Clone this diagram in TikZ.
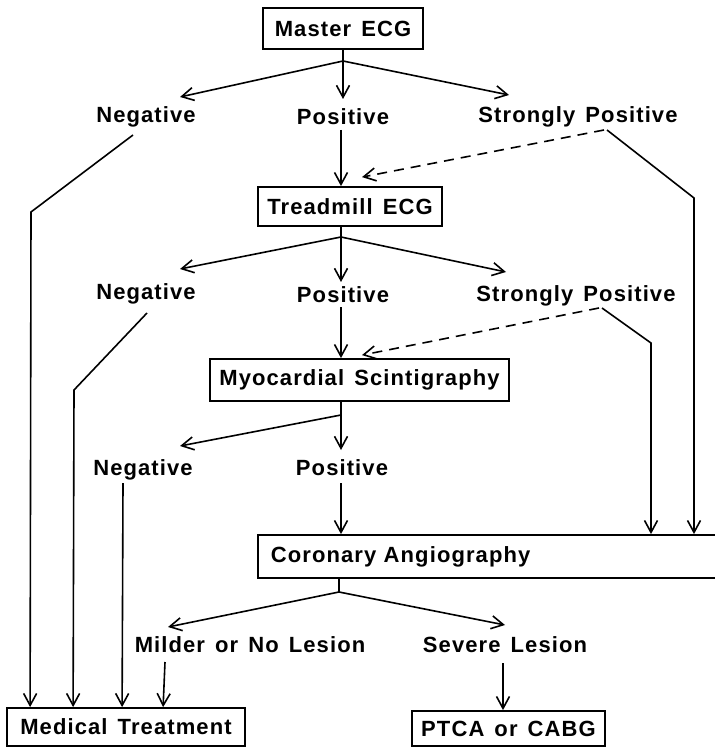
\documentclass[tikz,border=0pt]{standalone}
\usepackage{fontspec}
\setmainfont{Liberation Sans}[LetterSpace=5, WordSpace=1.4]
\usepackage{tikz}
\usetikzlibrary{arrows.meta}
\tikzset{
flow box/.style = { rectangle, draw = black, line width = 0.9pt, inner sep = 0pt, font = \fontsize{11}{13}\bfseries },
flow label/.style = { inner sep = 1pt, font = \fontsize{11}{13}\bfseries },
flow line/.style = { line width = 0.8pt },
flow arrow/.style = { flow line, -{Straight Barb[length = 6pt, width = 6.5pt]} },
flow dashed/.style = { flow arrow, dash pattern = on 5pt off 3.5pt },
}

\begin{document}
\begin{tikzpicture}[x = 0.5pt, y = -0.5pt]
    \useasboundingbox (0, 0) rectangle (714, 748);
    % boxes
    \node[flow box, minimum width = 80pt, minimum height = 20.5pt] (master) at (343, 28.5) {Master ECG};
    \node[flow box, minimum width = 92pt, minimum height = 19.5pt] (treadmill) at (350, 206.5) {Treadmill ECG};
    \node[flow box, minimum width = 149.5pt, minimum height = 21pt] (scinti) at (359.5, 380) {Myocardial Scintigraphy};
    \node[flow box, anchor = west, minimum height = 21.5pt, inner xsep = 6.5pt, text width = 240pt, align = left] (angio) at (257, 556.5) {Coronary Angiography};
    \node[flow box, minimum width = 119pt, minimum height = 19pt] (medical) at (126, 727) {Medical Treatment};
    \node[flow box, minimum width = 96.5pt, minimum height = 17.5pt] (ptca) at (508.5, 728.5) {PTCA or CABG};
    % labels
    \node[flow label] (neg1) at (146, 117) {Negative};
    \node[flow label] (pos1) at (343, 117) {Positive};
    \node[flow label] (spos1) at (578, 117) {Strongly Positive};
    \node[flow label] (neg2) at (146, 294) {Negative};
    \node[flow label] (pos2) at (343, 295) {Positive};
    \node[flow label] (spos2) at (576, 296) {Strongly Positive};
    \node[flow label] (neg3) at (143, 470) {Negative};
    \node[flow label] (pos3) at (342, 468) {Positive};
    \node[flow label] (mild) at (250, 645) {Milder or No Lesion};
    \node[flow label] (sev) at (505, 645) {Severe Lesion};
    \coordinate (b1) at (343, 61);
    \coordinate (b2) at (341, 237);
    \coordinate (b3) at (341, 415);
    \coordinate (b4) at (339, 592);
    % master ECG
    \draw[flow line] (master) -- (b1);
    \draw[flow arrow] (b1) -- ([shift={(34,-20)}]neg1.center);
    \draw[flow arrow] (b1) -- ([shift={(0,-18)}]pos1.center);
    \draw[flow arrow] (b1) -- ([shift={(-69,-22)}]spos1.center);
    \draw[flow arrow] ([shift={(-13,18)}]neg1.center) -- ++(-102,77) -- ([shift={(24,0)}]medical.north west);
    \draw[flow arrow] ([shift={(-2,13)}]pos1.center) -- ([shift={(-9,0)}]treadmill.north);
    \draw[flow dashed] ([shift={(26,13)}]spos1.center) -- ([shift={(12,-9)}]treadmill.north);
    \draw[flow arrow] ([shift={(29,13)}]spos1.center) -- ++(87,68) coordinate (r1) -- (r1 |- angio.north);
    % treadmill ECG
    \draw[flow line] ([shift={(-9,0)}]treadmill.south) -- (b2);
    \draw[flow arrow] (b2) -- ([shift={(34,-25)}]neg2.center);
    \draw[flow arrow] (b2) -- ([shift={(-2,-13)}]pos2.center);
    \draw[flow arrow] (b2) -- ([shift={(-70,-24)}]spos2.center);
    \draw[flow arrow] ([shift={(1,19)}]neg2.center) -- ++(-73,77) -- ([shift={(67,0)}]medical.north west);
    \draw[flow arrow] ([shift={(-2,12)}]pos2.center) -- ([shift={(-18.5,0)}]scinti.north);
    \draw[flow dashed] ([shift={(23,12)}]spos2.center) -- ([shift={(2.5,-3)}]scinti.north);
    \draw[flow arrow] ([shift={(26,12)}]spos2.center) -- ++(49,35) coordinate (r2) -- (r2 |- angio.north);
    % scintigraphy
    \draw[flow line] ([shift={(-18.5,0)}]scinti.south) -- (b3);
    \draw[flow arrow] (b3) -- ([shift={(37,-24)}]neg3.center);
    \draw[flow arrow] (b3) -- ([shift={(-1,-18)}]pos3.center);
    \draw[flow arrow] ([shift={(-20,13)}]neg3.center) -- ([shift={(116,0)}]medical.north west);
    \draw[flow arrow] ([shift={(-1,15)}]pos3.center) coordinate (p3) -- (p3 |- angio.north);
    % angiography
    \draw[flow line] (b4 |- angio.south) -- (b4);
    \draw[flow arrow] (b4) -- ([shift={(-82,-18)}]mild.center);
    \draw[flow arrow] (b4) -- ([shift={(0,-20)}]sev.center);
    \draw[flow arrow] ([shift={(-85,17)}]mild.center) -- ([shift={(157,0)}]medical.north west);
    \draw[flow arrow] ([shift={(-2,18)}]sev.center) -- ([shift={(-5.5,0)}]ptca.north);
\end{tikzpicture}
\end{document}
